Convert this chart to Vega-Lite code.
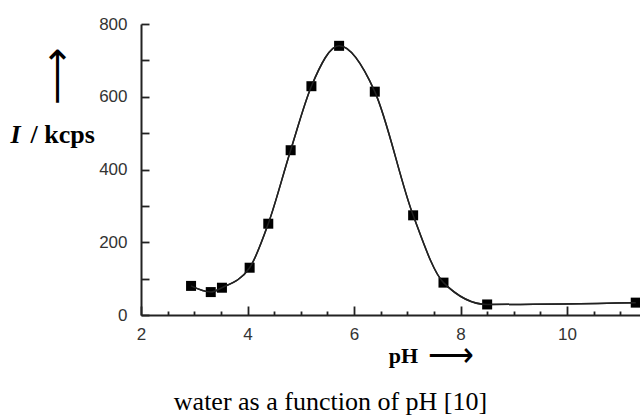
{
  "$schema": "https://vega.github.io/schema/vega-lite/v6.json",
  "width": 499,
  "height": 291,
  "autosize": "none",
  "padding": {"left": 141, "top": 24, "right": 0, "bottom": 101},
  "background": "white",
  "config": {"view": {"stroke": null}, "title": {"font": "Liberation Serif", "fontSize": 26, "fontWeight": "normal", "color": "#000"}},
  "title": {
    "text": "water as a function of pH [10]",
    "orient": "bottom",
    "anchor": "middle",
    "font": "Liberation Serif",
    "fontSize": 26,
    "fontWeight": "normal",
    "color": "#000",
    "dx": -60,
    "offset": 18
  },
  "data": {
    "values": [
      {"pH": 2.94, "I": 80},
      {"pH": 3.31, "I": 63},
      {"pH": 3.52, "I": 75},
      {"pH": 4.04, "I": 130},
      {"pH": 4.39, "I": 251},
      {"pH": 4.81, "I": 453},
      {"pH": 5.2, "I": 629},
      {"pH": 5.72, "I": 740},
      {"pH": 6.39, "I": 614},
      {"pH": 7.11, "I": 274},
      {"pH": 7.68, "I": 89},
      {"pH": 8.5, "I": 29},
      {"pH": 11.29, "I": 34}
    ]
  },
  "layer": [
    {
      "mark": {"type": "line", "interpolate": "monotone", "color": "#222", "strokeWidth": 1.5},
      "encoding": {
        "x": {
          "field": "pH",
          "type": "quantitative",
          "scale": {"domain": [2, 11.37], "nice": false, "zero": false},
          "axis": {
            "orient": "bottom",
            "values": [2, 4, 6, 8, 10],
            "format": "d",
            "labelFlush": false,
            "labelOverlap": false,
            "labelFont": "Liberation Sans",
            "labelFontSize": 17,
            "labelColor": "#333",
            "labelPadding": 11,
            "ticks": false,
            "domainColor": "#222",
            "domainWidth": 2,
            "grid": false,
            "title": "pH",
            "titleFont": "Liberation Serif",
            "titleFontSize": 22,
            "titleFontWeight": "bold",
            "titleColor": "#000",
            "titleX": 262,
            "titleY": 47,
            "titleAlign": "center",
            "titleBaseline": "alphabetic"
          }
        },
        "y": {
          "field": "I",
          "type": "quantitative",
          "scale": {"domain": [0, 800], "nice": false},
          "axis": {
            "orient": "left",
            "values": [0, 200, 400, 600, 800],
            "labelOverlap": false,
            "labelFont": "Liberation Sans",
            "labelFontSize": 17,
            "labelColor": "#333",
            "labelPadding": 14,
            "ticks": false,
            "domainColor": "#222",
            "domainWidth": 2,
            "grid": false,
            "title": "/ kcps",
            "titleFont": "Liberation Serif",
            "titleFontSize": 26,
            "titleFontWeight": "bold",
            "titleColor": "#000",
            "titleAngle": 0,
            "titleX": -111,
            "titleY": 118,
            "titleAlign": "left",
            "titleBaseline": "alphabetic"
          }
        }
      }
    },
    {
      "mark": {"type": "square", "size": 100, "color": "#000", "opacity": 1, "filled": true},
      "encoding": {
        "x": {
          "field": "pH",
          "type": "quantitative",
          "scale": {"domain": [2, 11.37], "nice": false, "zero": false},
          "axis": {
            "orient": "bottom",
            "values": [2, 4, 6, 8, 10],
            "labels": false,
            "domain": false,
            "ticks": false,
            "grid": true,
            "gridColor": "#222",
            "gridWidth": 1.8,
            "gridOpacity": 1,
            "gridDash": [0, 282, 9, 0],
            "title": "⟶",
            "titleFont": "DejaVu Sans",
            "titleFontSize": 32,
            "titleFontWeight": 200,
            "titleColor": "#000",
            "titleX": 309,
            "titleY": 40,
            "titleAlign": "center",
            "titleBaseline": "middle"
          }
        },
        "y": {
          "field": "I",
          "type": "quantitative",
          "scale": {"domain": [0, 800], "nice": false},
          "axis": {
            "orient": "left",
            "values": [0, 100, 200, 300, 400, 500, 600, 700, 800],
            "labels": false,
            "domain": false,
            "ticks": false,
            "grid": true,
            "gridColor": "#222",
            "gridWidth": 1.8,
            "gridOpacity": 1,
            "gridDash": [8, 2000],
            "title": "I",
            "titleFont": "Liberation Serif",
            "titleFontSize": 26,
            "titleFontWeight": "bold",
            "titleFontStyle": "italic",
            "titleColor": "#000",
            "titleAngle": 0,
            "titleX": -131,
            "titleY": 118,
            "titleAlign": "left",
            "titleBaseline": "alphabetic"
          }
        }
      }
    },
    {
      "mark": {"type": "line", "interpolate": "monotone", "color": "#222", "strokeWidth": 1.5},
      "encoding": {
        "x": {
          "field": "pH",
          "type": "quantitative",
          "scale": {"domain": [2, 11.37], "nice": false, "zero": false},
          "axis": {
            "orient": "bottom",
            "values": [2.5, 3, 3.5, 4.5, 5, 5.5, 6.5, 7, 7.5, 8.5, 9, 9.5, 10.5, 11],
            "labels": false,
            "domain": false,
            "ticks": true,
            "tickSize": 4,
            "offset": -4,
            "tickColor": "#222",
            "tickWidth": 1.8,
            "tickOpacity": 1,
            "grid": false,
            "title": null
          }
        },
        "y": {
          "field": "I",
          "type": "quantitative",
          "scale": {"domain": [0, 800], "nice": false},
          "axis": {
            "orient": "left",
            "labels": false,
            "ticks": false,
            "domain": false,
            "grid": false,
            "title": "⟶",
            "titleFont": "DejaVu Sans",
            "titleFontSize": 40,
            "titleFontWeight": 200,
            "titleColor": "#000",
            "titleAngle": -90,
            "titleX": -84,
            "titleY": 52,
            "titleAlign": "center",
            "titleBaseline": "middle"
          }
        }
      }
    }
  ],
  "resolve": {"scale": {"x": "independent", "y": "independent"}, "axis": {"x": "independent", "y": "independent"}}
}
